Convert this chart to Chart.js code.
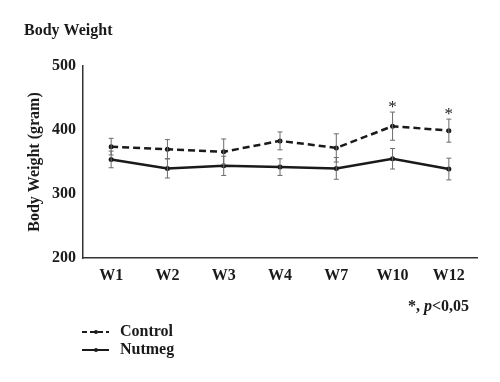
<!DOCTYPE html>
<html>
<head>
<meta charset="utf-8">
<script src="https://cdn.jsdelivr.net/npm/chart.js@4/dist/chart.umd.min.js"></script>
<style>
  html, body { margin: 0; padding: 0; background: #fff; }
  #wrap { width: 500px; height: 382px; position: relative; }
</style>
</head>
<body>
<div id="wrap"><canvas id="chart"></canvas></div>
<script>
  // data
  var weeks = ['W1', 'W2', 'W3', 'W4', 'W7', 'W10', 'W12'];
  var controlMean = [374, 370, 366, 383, 372, 406, 399];
  var controlErr = [13, 15, 20, 14, 22, 22, 18];
  var nutmegMean = [354, 340, 344, 342, 340, 355, 339];
  var nutmegErr = [13, 15, 15, 13, 17, 16, 17];
  var yTicks = [200, 300, 400, 500];
  var significant = ['W10', 'W12'];

  var SERIF = '"Liberation Serif", "DejaVu Serif", serif';
  var INK = '#1a1a1a';

  // error bars, asterisks, title and legend
  var extrasPlugin = {
    id: 'extras',
    afterDatasetsDraw: function (chart) {
      var ctx = chart.ctx;
      var x = chart.scales.x, y = chart.scales.y;
      var errs = [controlErr, nutmegErr];
      ctx.save();
      ctx.strokeStyle = '#6b6b6b';
      ctx.lineWidth = 1;
      chart.data.datasets.forEach(function (ds, di) {
        ds.data.forEach(function (v, i) {
          var px = x.getPixelForValue(i);
          var top = y.getPixelForValue(v + errs[di][i]);
          var bot = y.getPixelForValue(v - errs[di][i]);
          ctx.beginPath();
          ctx.moveTo(px, top); ctx.lineTo(px, bot);
          ctx.moveTo(px - 2.5, top); ctx.lineTo(px + 2.5, top);
          ctx.moveTo(px - 2.5, bot); ctx.lineTo(px + 2.5, bot);
          ctx.stroke();
        });
      });
      ctx.restore();
    },
    afterDraw: function (chart) {
      var ctx = chart.ctx;
      var x = chart.scales.x, y = chart.scales.y;
      ctx.save();
      ctx.fillStyle = INK;

      // asterisks over significant weeks
      ctx.font = '17px ' + SERIF;
      ctx.textAlign = 'center';
      ctx.textBaseline = 'middle';
      significant.forEach(function (w) {
        var i = weeks.indexOf(w);
        var top = y.getPixelForValue(controlMean[i] + controlErr[i]);
        ctx.fillText('*', x.getPixelForValue(i), top - 5);
      });

      // title
      ctx.font = 'bold 16px ' + SERIF;
      ctx.textAlign = 'left';
      ctx.fillText('Body Weight', 24, 31);

      // y axis title
      ctx.save();
      ctx.translate(35, (chart.chartArea.top + chart.chartArea.bottom) / 2);
      ctx.rotate(-Math.PI / 2);
      ctx.textAlign = 'center';
      ctx.font = 'bold 16px ' + SERIF;
      ctx.fillText('Body Weight (gram)', 0, 0);
      ctx.restore();

      // significance note
      ctx.textAlign = 'left';
      ctx.font = 'bold 16px ' + SERIF;
      var sx = 408;
      ctx.fillText('*, ', sx, 307);
      sx += ctx.measureText('*, ').width;
      ctx.font = 'italic bold 16px ' + SERIF;
      ctx.fillText('p', sx, 307);
      sx += ctx.measureText('p').width;
      ctx.font = 'bold 16px ' + SERIF;
      ctx.fillText('<0,05', sx, 307);

      // legend
      var rows = [
        { label: 'Control', dash: [5, 3], y: 332 },
        { label: 'Nutmeg', dash: [], y: 350 }
      ];
      rows.forEach(function (r) {
        ctx.strokeStyle = INK;
        ctx.lineWidth = 2;
        ctx.setLineDash(r.dash);
        ctx.beginPath();
        ctx.moveTo(82, r.y); ctx.lineTo(109, r.y);
        ctx.stroke();
        ctx.setLineDash([]);
        ctx.beginPath();
        ctx.arc(96, r.y, 2, 0, Math.PI * 2);
        ctx.fill();
        ctx.font = 'bold 16px ' + SERIF;
        ctx.fillText(r.label, 120, r.y);
      });
      ctx.restore();
    }
  };

  new Chart(document.getElementById('chart'), {
    type: 'line',
    data: {
      labels: weeks,
      datasets: [{
        label: 'Control',
        data: controlMean,
        borderColor: INK,
        backgroundColor: INK,
        borderWidth: 2.5,
        borderDash: [7, 4],
        pointRadius: 2.5,
        pointBorderWidth: 0,
        tension: 0
      }, {
        label: 'Nutmeg',
        data: nutmegMean,
        borderColor: INK,
        backgroundColor: INK,
        borderWidth: 2.5,
        pointRadius: 2.5,
        pointBorderWidth: 0,
        tension: 0
      }]
    },
    options: {
      responsive: true,
      maintainAspectRatio: false,
      animation: false,
      layout: { padding: { top: 66, right: 23, bottom: 94, left: 0 } },
      plugins: { legend: { display: false }, tooltip: { enabled: false } },
      scales: {
        x: {
          offset: true,
          grid: { display: false, drawTicks: false },
          border: { display: true, color: '#333', width: 1.5 },
          ticks: { color: INK, padding: 8, font: { family: SERIF, size: 16, weight: 'bold' } },
          afterFit: function (s) { s.height = 30; }
        },
        y: {
          min: 200,
          max: 500,
          grid: { display: false, drawTicks: false },
          border: { display: true, color: '#333', width: 1.5 },
          afterBuildTicks: function (s) { s.ticks = yTicks.map(function (v) { return { value: v }; }); },
          ticks: { color: INK, padding: 7, font: { family: SERIF, size: 16, weight: 'bold' } },
          afterFit: function (s) { s.width = 83; }
        }
      }
    },
    plugins: [extrasPlugin]
  });
</script>
</body>
</html>
